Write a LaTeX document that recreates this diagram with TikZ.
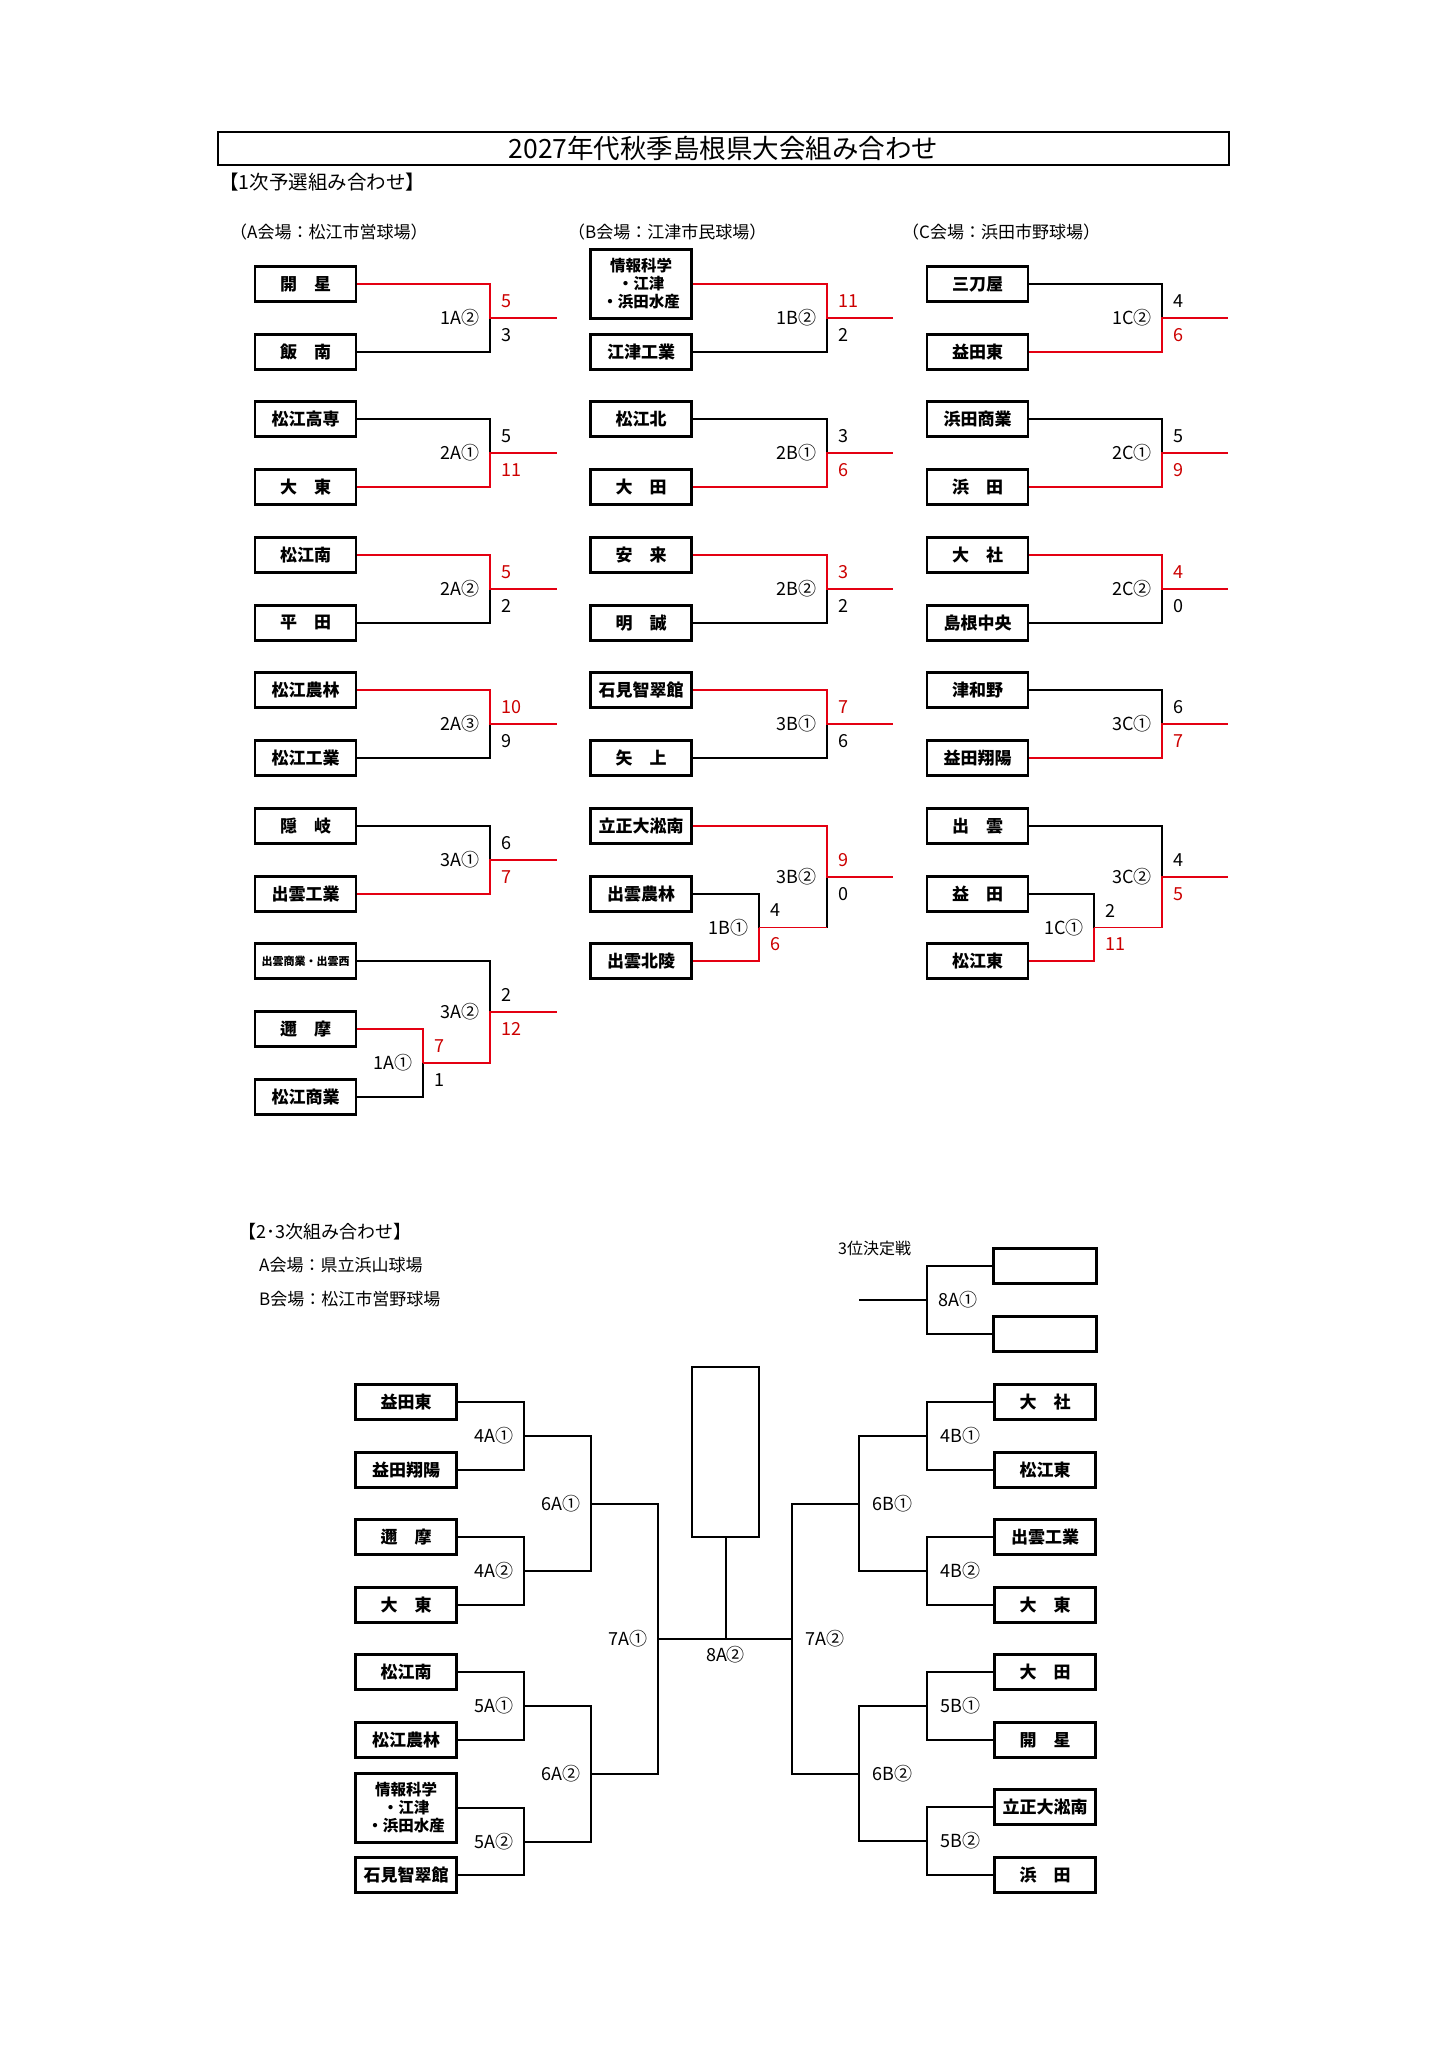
\documentclass[tikz,border=0pt]{standalone}
\usepackage{fontspec}
\newfontfamily\jp{Noto Sans CJK JP}
\usetikzlibrary{positioning, calc}
\definecolor{winline}{RGB}{228,0,18}
\definecolor{winnum}{RGB}{204,0,0}

\begin{document}
\begin{tikzpicture}[x=1pt, y=-1pt,
    team/.style={draw, line width=2.6pt, minimum width=101pt, minimum height=35pt, inner sep=0pt, font=\jp\bfseries\fontsize{17}{19}\selectfont},
    tallteam/.style={team, minimum height=69pt, align=center, font=\jp\bfseries\fontsize{15.5}{18}\selectfont},
    smallteam/.style={team, font=\jp\bfseries\fontsize{11}{12}\selectfont},
    emptybox/.style={draw, line width=2.2pt, minimum width=103pt, minimum height=35pt, inner sep=0pt},
    win/.style={draw=winline, line width=1.8pt},
    lose/.style={draw=black, line width=1.3pt},
    tie/.style={draw=black, line width=2pt},
    lbl/.style={font=\jp\fontsize{18}{20}\selectfont, inner sep=0pt},
    tag/.style={lbl, anchor=east, xshift=-10pt},
    rtag/.style={lbl, anchor=west, xshift=13pt},
    hi/.style={lbl, anchor=west, xshift=11pt, yshift=17pt},
    lo/.style={lbl, anchor=west, xshift=11pt, yshift=-17pt},
    won/.style={text=winnum},
    head/.style={anchor=west, inner sep=0pt, font=\jp\fontsize{18}{20}\selectfont},
    venue/.style={anchor=west, inner sep=0pt, font=\jp\fontsize{17}{19}\selectfont}]
    \useasboundingbox (0,0) rectangle (1448,2048);
    % Title
    \node[draw, line width=1.8pt, minimum width=1011pt, minimum height=33pt, inner sep=0pt, font=\jp\fontsize{26.5}{30}\selectfont] (title) at (723.5,148.5) {2027年代秋季島根県大会組み合わせ};
    \node[head, font=\jp\fontsize{19.5}{22}\selectfont] (head1) at (219,182) {【1次予選組み合わせ】};
    \node[venue] (venueA) at (230,232) {（A会場：松江市営球場）};
    \node[venue] (venueB) at (568,232) {（B会場：江津市民球場）};
    \node[venue] (venueC) at (902,232) {（C会場：浜田市野球場）};

    % A column teams
    \node[team] (kaisei) at (305.5,284) {開　星};
    \node[team] (iinan) at (305.5,352) {飯　南};
    \node[team] (matsuekosen) at (305.5,419) {松江高専};
    \node[team] (daito) at (305.5,487) {大　東};
    \node[team] (matsueminami) at (305.5,555) {松江南};
    \node[team] (hirata) at (305.5,623) {平　田};
    \node[team] (matsuenorin) at (305.5,690) {松江農林};
    \node[team] (matsuekogyo) at (305.5,758) {松江工業};
    \node[team] (oki) at (305.5,826) {隠　岐};
    \node[team] (izumokogyo) at (305.5,894) {出雲工業};
    \node[smallteam] (izumoshogyo) at (305.5,961) {出雲商業・出雲西};
    \node[team] (nima) at (305.5,1029) {邇　摩};
    \node[team] (matsueshogyo) at (305.5,1097) {松江商業};
    % A column games
    \coordinate (m1A2) at (490,318);  \coordinate (o1A2) at (557,318);
    \coordinate (m2A1) at (490,453);  \coordinate (o2A1) at (557,453);
    \coordinate (m2A2) at (490,589);  \coordinate (o2A2) at (557,589);
    \coordinate (m2A3) at (490,724);  \coordinate (o2A3) at (557,724);
    \coordinate (m3A1) at (490,860);  \coordinate (o3A1) at (557,860);
    \coordinate (m3A2) at (490,1012); \coordinate (o3A2) at (557,1012);
    \coordinate (m1A1) at (423,1063);
    \draw[lose] (iinan.east) -| (m1A2);
    \draw[win] (kaisei.east) -| (m1A2) -- (o1A2);
    \draw[lose] (matsuekosen.east) -| (m2A1);
    \draw[win] (daito.east) -| (m2A1) -- (o2A1);
    \draw[lose] (hirata.east) -| (m2A2);
    \draw[win] (matsueminami.east) -| (m2A2) -- (o2A2);
    \draw[lose] (matsuekogyo.east) -| (m2A3);
    \draw[win] (matsuenorin.east) -| (m2A3) -- (o2A3);
    \draw[lose] (oki.east) -| (m3A1);
    \draw[win] (izumokogyo.east) -| (m3A1) -- (o3A1);
    \draw[lose] (matsueshogyo.east) -| (m1A1);
    \draw[win] (nima.east) -| (m1A1);
    \draw[lose] (izumoshogyo.east) -| (m3A2);
    \draw[win] (m1A1) -| (m3A2) -- (o3A2);
    \node[tag] (t1A2) at (m1A2) {1A②};
    \node[hi, won] (s1A2a) at (m1A2) {5};
    \node[lo] (s1A2b) at (m1A2) {3};
    \node[tag] (t2A1) at (m2A1) {2A①};
    \node[hi] (s2A1a) at (m2A1) {5};
    \node[lo, won] (s2A1b) at (m2A1) {11};
    \node[tag] (t2A2) at (m2A2) {2A②};
    \node[hi, won] (s2A2a) at (m2A2) {5};
    \node[lo] (s2A2b) at (m2A2) {2};
    \node[tag] (t2A3) at (m2A3) {2A③};
    \node[hi, won] (s2A3a) at (m2A3) {10};
    \node[lo] (s2A3b) at (m2A3) {9};
    \node[tag] (t3A1) at (m3A1) {3A①};
    \node[hi] (s3A1a) at (m3A1) {6};
    \node[lo, won] (s3A1b) at (m3A1) {7};
    \node[tag] (t3A2) at (m3A2) {3A②};
    \node[hi] (s3A2a) at (m3A2) {2};
    \node[lo, won] (s3A2b) at (m3A2) {12};
    \node[tag] (t1A1) at (m1A1) {1A①};
    \node[hi, won] (s1A1a) at (m1A1) {7};
    \node[lo] (s1A1b) at (m1A1) {1};

    % B column teams
    \node[tallteam] (joho) at (641,284) {情報科学\\・江津\\・浜田水産};
    \node[team] (gotsukogyo) at (641,352) {江津工業};
    \node[team] (matsuekita) at (641,419) {松江北};
    \node[team] (oda) at (641,487) {大　田};
    \node[team] (yasugi) at (641,555) {安　来};
    \node[team] (meisei) at (641,623) {明　誠};
    \node[team] (chisuikan) at (641,690) {石見智翠館};
    \node[team] (yakami) at (641,758) {矢　上};
    \node[team] (rissho) at (641,826) {立正大淞南};
    \node[team] (izumonorin) at (641,894) {出雲農林};
    \node[team] (hokuryo) at (641,961) {出雲北陵};
    % B column games
    \coordinate (m1B2) at (827,318);   \coordinate (o1B2) at (893,318);
    \coordinate (m2B1) at (827,453);   \coordinate (o2B1) at (893,453);
    \coordinate (m2B2) at (827,589);   \coordinate (o2B2) at (893,589);
    \coordinate (m3B1) at (827,724);   \coordinate (o3B1) at (893,724);
    \coordinate (m3B2) at (827,877);   \coordinate (o3B2) at (893,877);
    \coordinate (m1B1) at (759,927.5);
    \draw[lose] (gotsukogyo.east) -| (m1B2);
    \draw[win] (joho.east) -| (m1B2) -- (o1B2);
    \draw[lose] (matsuekita.east) -| (m2B1);
    \draw[win] (oda.east) -| (m2B1) -- (o2B1);
    \draw[lose] (meisei.east) -| (m2B2);
    \draw[win] (yasugi.east) -| (m2B2) -- (o2B2);
    \draw[lose] (yakami.east) -| (m3B1);
    \draw[win] (chisuikan.east) -| (m3B1) -- (o3B1);
    \draw[lose] (izumonorin.east) -| (m1B1);
    \draw[win] (hokuryo.east) -| (m1B1);
    \draw[lose] (m1B1 -| m3B2) -- (m3B2);
    \draw[win] (m1B1) -- (m1B1 -| m3B2);
    \draw[win] (rissho.east) -| (m3B2) -- (o3B2);
    \node[tag] (t1B2) at (m1B2) {1B②};
    \node[hi, won] (s1B2a) at (m1B2) {11};
    \node[lo] (s1B2b) at (m1B2) {2};
    \node[tag] (t2B1) at (m2B1) {2B①};
    \node[hi] (s2B1a) at (m2B1) {3};
    \node[lo, won] (s2B1b) at (m2B1) {6};
    \node[tag] (t2B2) at (m2B2) {2B②};
    \node[hi, won] (s2B2a) at (m2B2) {3};
    \node[lo] (s2B2b) at (m2B2) {2};
    \node[tag] (t3B1) at (m3B1) {3B①};
    \node[hi, won] (s3B1a) at (m3B1) {7};
    \node[lo] (s3B1b) at (m3B1) {6};
    \node[tag] (t3B2) at (m3B2) {3B②};
    \node[hi, won] (s3B2a) at (m3B2) {9};
    \node[lo] (s3B2b) at (m3B2) {0};
    \node[tag] (t1B1) at (m1B1) {1B①};
    \node[hi] (s1B1a) at (m1B1) {4};
    \node[lo, won] (s1B1b) at (m1B1) {6};

    % C column teams
    \node[team] (mitoya) at (977.5,284) {三刀屋};
    \node[team] (masudahigashi) at (977.5,352) {益田東};
    \node[team] (hamadashogyo) at (977.5,419) {浜田商業};
    \node[team] (hamada) at (977.5,487) {浜　田};
    \node[team] (taisha) at (977.5,555) {大　社};
    \node[team] (shimanechuo) at (977.5,623) {島根中央};
    \node[team] (tsuwano) at (977.5,690) {津和野};
    \node[team] (masudashoyo) at (977.5,758) {益田翔陽};
    \node[team] (izumo) at (977.5,826) {出　雲};
    \node[team] (masuda) at (977.5,894) {益　田};
    \node[team] (matsuehigashi) at (977.5,961) {松江東};
    % C column games
    \coordinate (m1C2) at (1162,318);  \coordinate (o1C2) at (1228,318);
    \coordinate (m2C1) at (1162,453);  \coordinate (o2C1) at (1228,453);
    \coordinate (m2C2) at (1162,589);  \coordinate (o2C2) at (1228,589);
    \coordinate (m3C1) at (1162,724);  \coordinate (o3C1) at (1228,724);
    \coordinate (m3C2) at (1162,877);  \coordinate (o3C2) at (1228,877);
    \coordinate (m1C1) at (1094,927.5);
    \draw[lose] (mitoya.east) -| (m1C2);
    \draw[win] (masudahigashi.east) -| (m1C2) -- (o1C2);
    \draw[lose] (hamadashogyo.east) -| (m2C1);
    \draw[win] (hamada.east) -| (m2C1) -- (o2C1);
    \draw[lose] (shimanechuo.east) -| (m2C2);
    \draw[win] (taisha.east) -| (m2C2) -- (o2C2);
    \draw[lose] (tsuwano.east) -| (m3C1);
    \draw[win] (masudashoyo.east) -| (m3C1) -- (o3C1);
    \draw[lose] (masuda.east) -| (m1C1);
    \draw[win] (matsuehigashi.east) -| (m1C1);
    \draw[lose] (izumo.east) -| (m3C2);
    \draw[win] (m1C1) -| (m3C2) -- (o3C2);
    \node[tag] (t1C2) at (m1C2) {1C②};
    \node[hi] (s1C2a) at (m1C2) {4};
    \node[lo, won] (s1C2b) at (m1C2) {6};
    \node[tag] (t2C1) at (m2C1) {2C①};
    \node[hi] (s2C1a) at (m2C1) {5};
    \node[lo, won] (s2C1b) at (m2C1) {9};
    \node[tag] (t2C2) at (m2C2) {2C②};
    \node[hi, won] (s2C2a) at (m2C2) {4};
    \node[lo] (s2C2b) at (m2C2) {0};
    \node[tag] (t3C1) at (m3C1) {3C①};
    \node[hi] (s3C1a) at (m3C1) {6};
    \node[lo, won] (s3C1b) at (m3C1) {7};
    \node[tag] (t3C2) at (m3C2) {3C②};
    \node[hi] (s3C2a) at (m3C2) {4};
    \node[lo, won] (s3C2b) at (m3C2) {5};
    \node[tag] (t1C1) at (m1C1) {1C①};
    \node[hi] (s1C1a) at (m1C1) {2};
    \node[lo, won] (s1C1b) at (m1C1) {11};

    % 2nd and 3rd rounds
    \node[head] (head2) at (238,1232) {【2･3次組み合わせ】};
    \node[venue] (venueA2) at (259,1265) {A会場：県立浜山球場};
    \node[venue] (venueB2) at (259,1299) {B会場：松江市営野球場};
    \node[venue, font=\jp\fontsize{16}{18}\selectfont] (third) at (838,1248) {3位決定戦};
    \node[emptybox] (tp1) at (1045,1266) {};
    \node[emptybox] (tp2) at (1045,1334) {};
    \coordinate (m8A1) at (927,1300); \coordinate (o8A1) at (859,1300);
    \draw[tie] (tp1.west) -| (m8A1) |- (tp2.west);
    \draw[tie] (m8A1) -- (o8A1);
    \node[rtag, xshift=-2pt] (t8A1) at (m8A1) {8A①};

    % left half
    \node[team] (l1) at (406,1402) {益田東};
    \node[team] (l2) at (406,1470) {益田翔陽};
    \node[team] (l3) at (406,1537) {邇　摩};
    \node[team] (l4) at (406,1605) {大　東};
    \node[team] (l5) at (406,1672) {松江南};
    \node[team] (l6) at (406,1740) {松江農林};
    \node[tallteam] (l7) at (406,1808) {情報科学\\・江津\\・浜田水産};
    \node[team] (l8) at (406,1875) {石見智翠館};
    \coordinate (m4A1) at (524,1436);
    \coordinate (m4A2) at (524,1571);
    \coordinate (m5A1) at (524,1706);
    \coordinate (m5A2) at (524,1841.5);
    \coordinate (m6A1) at (591,1503.5);
    \coordinate (m6A2) at (591,1773.5);
    \coordinate (m7A1) at (658,1638.5);
    \draw[tie] (l1.east) -| (m4A1) |- (l2.east);
    \draw[tie] (l3.east) -| (m4A2) |- (l4.east);
    \draw[tie] (l5.east) -| (m5A1) |- (l6.east);
    \draw[tie] (l7.east) -| (m5A2) |- (l8.east);
    \draw[tie] (m4A1) -| (m6A1) |- (m4A2);
    \draw[tie] (m5A1) -| (m6A2) |- (m5A2);
    \draw[tie] (m6A1) -| (m7A1) |- (m6A2);
    \node[tag] (t4A1) at (m4A1) {4A①};
    \node[tag] (t4A2) at (m4A2) {4A②};
    \node[tag] (t5A1) at (m5A1) {5A①};
    \node[tag] (t5A2) at (m5A2) {5A②};
    \node[tag] (t6A1) at (m6A1) {6A①};
    \node[tag] (t6A2) at (m6A2) {6A②};
    \node[tag] (t7A1) at (m7A1) {7A①};

    % right half
    \node[team] (r1) at (1045,1402) {大　社};
    \node[team] (r2) at (1045,1470) {松江東};
    \node[team] (r3) at (1045,1537) {出雲工業};
    \node[team] (r4) at (1045,1605) {大　東};
    \node[team] (r5) at (1045,1672) {大　田};
    \node[team] (r6) at (1045,1740) {開　星};
    \node[team] (r7) at (1045,1807) {立正大淞南};
    \node[team] (r8) at (1045,1875) {浜　田};
    \coordinate (m4B1) at (927,1436);
    \coordinate (m4B2) at (927,1571);
    \coordinate (m5B1) at (927,1706);
    \coordinate (m5B2) at (927,1841);
    \coordinate (m6B1) at (859,1503.5);
    \coordinate (m6B2) at (859,1773.5);
    \coordinate (m7A2) at (792,1638.5);
    \draw[tie] (r1.west) -| (m4B1) |- (r2.west);
    \draw[tie] (r3.west) -| (m4B2) |- (r4.west);
    \draw[tie] (r5.west) -| (m5B1) |- (r6.west);
    \draw[tie] (r7.west) -| (m5B2) |- (r8.west);
    \draw[tie] (m4B1) -| (m6B1) |- (m4B2);
    \draw[tie] (m5B1) -| (m6B2) |- (m5B2);
    \draw[tie] (m6B1) -| (m7A2) |- (m6B2);
    \node[rtag] (t4B1) at (m4B1) {4B①};
    \node[rtag] (t4B2) at (m4B2) {4B②};
    \node[rtag] (t5B1) at (m5B1) {5B①};
    \node[rtag] (t5B2) at (m5B2) {5B②};
    \node[rtag] (t6B1) at (m6B1) {6B①};
    \node[rtag] (t6B2) at (m6B2) {6B②};
    \node[rtag] (t7A2) at (m7A2) {7A②};

    % final
    \node[draw, line width=2pt, minimum width=67pt, minimum height=170pt, inner sep=0pt] (champ) at (725.5,1452) {};
    \coordinate (f8A2) at (725.5,1638.5);
    \draw[tie] (m7A1) -- (m7A2);
    \draw[tie] (champ.south) -- (f8A2);
    \node[lbl, yshift=-16pt] (t8A2) at (f8A2) {8A②};
\end{tikzpicture}
\end{document}
